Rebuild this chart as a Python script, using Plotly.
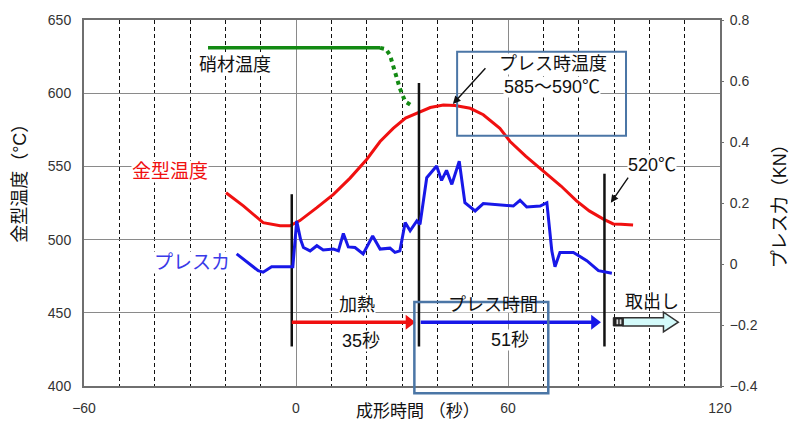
import plotly.graph_objects as go

# ---- 金型温度 (mold temperature, °C, left axis) ----
mold_time = [-19.8, -14.9, -9.3, -4.5, -1.7, 1.1, 5.9, 10.6, 15.3, 20.0, 23.8, 27.5,
             31.0, 35.1, 38.0, 41.7, 45.0, 49.3, 53.0, 57.7, 60.6, 65.0, 70.0, 75.0,
             79.4, 83.0, 87.0, 89.8, 92.0, 95.4]
mold_temp = [532.0, 523.0, 511.6, 509.4, 509.4, 513.0, 521.8, 530.9, 542.0, 554.7, 567.0, 576.0,
             583.0, 587.5, 590.2, 592.0, 591.6, 589.7, 585.3, 576.0, 567.0, 557.0, 546.7, 536.6,
             526.4, 519.6, 514.0, 510.7, 510.5, 510.0]

# ---- プレス力 (press force, kN, right axis) ----
press_time = [-16.8, -13.0, -10.7, -9.3, -6.9, -0.9, 0.2, 1.3, 2.1, 4.0, 5.9, 7.7, 10.6, 12.0,
              13.4, 14.8, 16.7, 19.0, 21.7, 23.8, 26.6, 28.0, 29.4, 30.9, 32.3, 34.2, 35.1,
              37.0, 39.8, 41.2, 42.6, 44.1, 46.2, 47.8, 50.7, 53.0, 61.5, 63.4, 65.3, 69.1,
              71.0, 72.4, 73.3, 74.7, 78.5, 82.3, 85.6, 89.4]
press_force = [0.033, 0.000, -0.022, -0.027, -0.009, -0.009, 0.141, 0.080, 0.054, 0.043, 0.060,
               0.046, 0.049, 0.043, 0.100, 0.056, 0.054, 0.033, 0.092, 0.049, 0.052, 0.038,
               0.043, 0.136, 0.109, 0.141, 0.130, 0.283, 0.321, 0.274, 0.307, 0.261, 0.337,
               0.201, 0.174, 0.198, 0.190, 0.209, 0.187, 0.190, 0.201, 0.043, -0.009, 0.038,
               0.038, 0.011, -0.022, -0.030]

# ---- 硝材温度 (glass temperature) ----
glass_time = [-24.9, 23.8]
glass_temp = [631.0, 631.0]
glass_fall_time = [23.8, 25.5, 26.6, 28.0, 29.4, 30.9, 32.7]
glass_fall_temp = [631.0, 630.0, 626.0, 614.7, 603.3, 594.3, 591.6]

# ---- process phase markers ----
phase_time = [-1.2, 34.8, 87.3]
phase_top = [531.0, 607.0, 545.0]
phase_bottom = 427.0
heat_start, heat_sec = -1.2, 35
press_start, press_sec = 35.3, 51
arrow_level = 443.6

x_ticks = [-60, 0, 60, 120]
temp_ticks = [400, 450, 500, 550, 600, 650]
force_ticks = [-0.4, -0.2, 0.0, 0.2, 0.4, 0.6, 0.8]

X_RANGE = [-60, 120]
Y_RANGE = [400, 650]
Y2_RANGE = [-0.4, 0.8]

JP = "Liberation Sans, Noto Sans CJK JP, sans-serif"
RED = "#f01010"
BLUE = "#1818e8"
GREEN = "#138a13"
FRAME = "#6f6f6f"
INK = "#111111"


def xp(t):
    return (t - X_RANGE[0]) / (X_RANGE[1] - X_RANGE[0])


def yp(v):
    return (v - Y_RANGE[0]) / (Y_RANGE[1] - Y_RANGE[0])


fig = go.Figure()

# curves
fig.add_trace(go.Scatter(x=mold_time, y=mold_temp, mode="lines",
                         line=dict(color=RED, width=3), showlegend=False))
fig.add_trace(go.Scatter(x=glass_time, y=glass_temp, mode="lines",
                         line=dict(color=GREEN, width=3.5), showlegend=False))
fig.add_trace(go.Scatter(x=glass_fall_time, y=glass_fall_temp, mode="lines",
                         line=dict(color=GREEN, width=4, dash="dot"), showlegend=False))
fig.add_trace(go.Scatter(x=press_time, y=press_force, mode="lines", yaxis="y2",
                         line=dict(color=BLUE, width=3), showlegend=False))

# vertical phase markers
vx, vy = [], []
for t, top in zip(phase_time, phase_top):
    vx += [t, t, None]
    vy += [phase_bottom, top, None]
fig.add_trace(go.Scatter(x=vx, y=vy, mode="lines",
                         line=dict(color=INK, width=2.5), showlegend=False))

# heating / pressing duration arrows
px_per_sec = 636 / (X_RANGE[1] - X_RANGE[0])
head_back = 6.5 / px_per_sec
for start, dur, col in [(heat_start, heat_sec, RED), (press_start, press_sec, BLUE)]:
    end = start + dur
    fig.add_trace(go.Scatter(x=[start, end - head_back], y=[arrow_level, arrow_level],
                             mode="lines", line=dict(color=col, width=3.5), showlegend=False))
    fig.add_trace(go.Scatter(x=[end - head_back], y=[arrow_level], mode="markers",
                             marker=dict(symbol="triangle-right", size=13, color=col),
                             showlegend=False))

# take-out block arrow (取出し)
bx0, bx1, bx2, bx3 = 89.8, 92.6, 104.0, 108.2
b_top, b_bot, h_top, h_bot = 446.7, 441.0, 450.5, 436.9
shapes = [
    # white patch hiding the grid behind the プレス時間 label
    dict(type="rect", xref="x", yref="y", x0=44.0, x1=67.6, y0=450.2, y1=460.5,
         fillcolor="white", line=dict(width=0), layer="between"),
    dict(type="rect", xref="x", yref="y", x0=bx0, x1=bx1, y0=b_bot, y1=b_top,
         fillcolor="#222222", line=dict(color="#222222", width=1)),
    dict(type="rect", xref="x", yref="y", x0=bx0 + 0.9, x1=bx0 + 1.4, y0=b_bot + 1.2, y1=b_top - 1.2,
         fillcolor="#dddddd", line=dict(width=0)),
    dict(type="rect", xref="x", yref="y", x0=bx0 + 1.8, x1=bx0 + 2.3, y0=b_bot + 1.2, y1=b_top - 1.2,
         fillcolor="#dddddd", line=dict(width=0)),
    dict(type="path", xref="x", yref="y",
         path=f"M{bx1},{b_bot} L{bx2},{b_bot} L{bx2},{h_bot} L{bx3},{arrow_level} "
              f"L{bx2},{h_top} L{bx2},{b_top} L{bx1},{b_top} Z",
         fillcolor="#d4fbfb", line=dict(color="#333333", width=1.5)),
    # callout boxes
    dict(type="rect", xref="x", yref="y", x0=45.6, x1=93.4, y0=571.0, y1=628.3,
         line=dict(color="#4b76a6", width=2), fillcolor="rgba(0,0,0,0)"),
    dict(type="rect", xref="paper", yref="paper", x0=xp(33.5), x1=xp(71.4),
         y0=yp(395.0), y1=yp(457.3),
         line=dict(color="#4b76a6", width=2.5), fillcolor="rgba(0,0,0,0)"),
]

ann = []


def label(x, y, text, size=18, color=INK, bg="white", **kw):
    ann.append(dict(x=x, y=y, xref="x", yref="y", text=text, showarrow=False,
                    font=dict(family=JP, size=size, color=color), bgcolor=bg,
                    borderpad=0, **kw))


NONE = "rgba(0,0,0,0)"
label(-17.3, 619.4, "硝材温度")
label(-35.8, 546.7, "金型温度", size=19, color=RED)
label(-29.3, 484.4, "プレスカ", size=19, color="#3a3ae8")
label(17.2, 455.0, "加熱")
label(18.4, 430.6, "35秒")
label(55.8, 455.0, "プレス時間", bg=NONE)
label(60.6, 431.3, "51秒")
label(100.7, 457.3, "取出し", bg=NONE)
label(72.7, 620.1, "プレス時温度")
label(72.5, 604.5, "585～590℃")
label(100.7, 551.3, "520℃")

# callout arrows
for tip, tail in [((44.4, 592.7), (54.0, 618.1)), ((89.1, 525.2), (94.3, 543.3))]:
    ann.append(dict(x=tip[0], y=tip[1], ax=tail[0], ay=tail[1], xref="x", yref="y",
                    axref="x", ayref="y", text="", showarrow=True, arrowhead=2,
                    arrowsize=1.1, arrowwidth=1.4, arrowcolor=INK))

# axis titles
title_font = dict(family=JP, size=18, color=INK)
ann.append(dict(x=-0.1006, y=0.566, xref="paper", yref="paper", text="金型温度（°C）",
                textangle=-90, showarrow=False, xanchor="center", yanchor="middle",
                font=title_font))
ann.append(dict(x=1.0943, y=0.505, xref="paper", yref="paper", text="プレス力（KN）",
                textangle=-90, showarrow=False, xanchor="center", yanchor="middle",
                font=title_font))
ann.append(dict(x=0.525, y=-0.0698, xref="paper", yref="paper", text="成形時間 （秒）",
                showarrow=False, xanchor="center", yanchor="middle",
                font=dict(family=JP, size=17, color=INK)))

tick_font = dict(family="Liberation Sans", size=14, color="#333333")
fig.update_layout(
    width=798, height=430,
    margin=dict(l=84, r=78, t=18, b=44),
    paper_bgcolor="white", plot_bgcolor="white",
    shapes=shapes, annotations=ann,
    font=dict(family=JP, size=14, color="#333333"),
    xaxis=dict(range=X_RANGE, tickvals=x_ticks, showgrid=True, gridcolor="#8a8a8a",
               gridwidth=1, zeroline=False, showline=True, mirror=True,
               linecolor=FRAME, linewidth=2, ticks="", ticklabelstandoff=8,
               tickfont=tick_font,
               minor=dict(dtick=10, showgrid=True, gridcolor=INK, gridwidth=1,
                          griddash="4px,3px")),
    yaxis=dict(range=Y_RANGE, tickvals=temp_ticks, showgrid=True, gridcolor="#8a8a8a",
               gridwidth=1, zeroline=False, showline=True, mirror=True,
               linecolor=FRAME, linewidth=2, ticks="", ticklabelstandoff=8,
               tickfont=tick_font),
    yaxis2=dict(range=Y2_RANGE, tickvals=force_ticks, overlaying="y", side="right",
                showgrid=False, zeroline=False, showline=False, ticks="outside",
                ticklen=3, tickcolor=FRAME, ticklabelstandoff=3,
                tickfont=tick_font),
)

fig.write_html("out.html")
